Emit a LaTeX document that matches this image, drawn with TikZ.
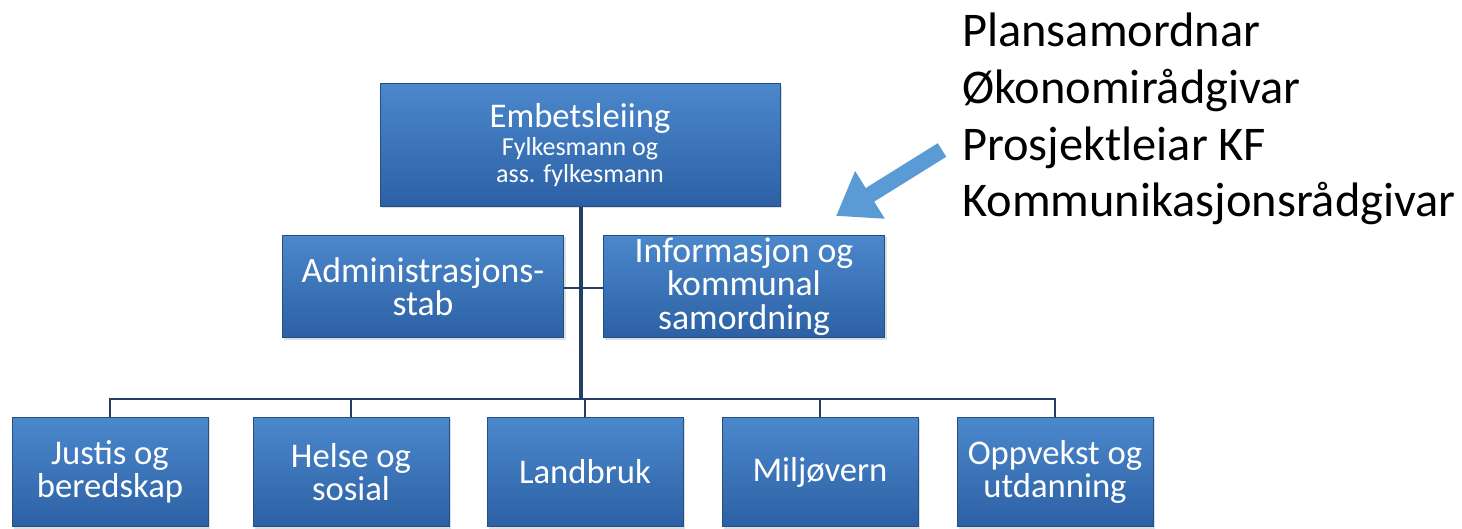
\documentclass[tikz,border=0pt]{standalone}
\usepackage{fontspec}
\setmainfont{Carlito}
\usetikzlibrary{arrows.meta,shadows}

\definecolor{boxtop}{RGB}{76,136,204}
\definecolor{boxbottom}{RGB}{44,96,164}
\definecolor{boxedge}{RGB}{38,78,130}
\definecolor{linkblue}{RGB}{36,62,100}
\definecolor{arrowblue}{RGB}{91,155,213}

\newcommand{\smalltext}{\fontsize{19.5}{20}\selectfont}

\tikzset{
    x=0.75pt, y=-0.75pt,
    unitbox/.style={draw=boxedge, line width=0.6pt, top color=boxtop, bottom color=boxbottom,
        text=white, align=center, inner sep=0pt,
        drop shadow={shadow xshift=1.5pt, shadow yshift=-1.5pt, opacity=0.25},
        font=\fontsize{26}{25}\selectfont},
    headbox/.style={unitbox, minimum width=300pt, minimum height=92pt},
    staffbox/.style={unitbox, minimum width=211pt, minimum height=77pt,
        font=\fontsize{26.8}{25}\selectfont},
    deptbox/.style={unitbox, minimum width=147pt, minimum height=82pt},
    trunk/.style={draw=linkblue, line width=2.6pt},
    branch/.style={draw=linkblue, line width=1.8pt},
    pointer/.style={draw=arrowblue, line width=12pt, -{Triangle[width=40pt,length=30pt]}},
    rolelist/.style={anchor=north west, align=left, inner sep=0pt,
        font=\fontsize{36.3}{42.5}\selectfont},
}

\begin{document}
\begin{tikzpicture}
    \useasboundingbox (0,0) rectangle (1462,528);

    % leiing og stab
    \node [headbox] (leiing) at (580,145) {Embetsleiing\\[-4pt]
        \smalltext Fylkesmann og\\[-4.5pt]\smalltext ass. fylkesmann};
    \node [staffbox] (admin) at (423,286.5) {Administrasjons-\\stab};
    \node [staffbox] (info) at (744,286.5) {Informasjon og\\kommunal\\samordning};

    % avdelingar
    \node [deptbox] (justis) at (110,472) {Justis og\\beredskap};
    \node [deptbox] (helse) at (351,472) {Helse og\\sosial};
    \node [deptbox] (landbruk) at (585,472) {Landbruk};
    \node [deptbox] (miljo) at (820,472) {Miljøvern};
    \node [deptbox] (oppvekst) at (1055,472) {Oppvekst og\\utdanning};

    \coordinate (bus) at (581,399);
    \coordinate (stab) at (581,288);

    % linjer
    \draw [branch] (admin.east |- stab) -- (info.west |- stab);
    \draw [trunk] (leiing.south -| bus) -- (bus);
    \foreach \dept in {justis, helse, landbruk, miljo, oppvekst}
        \draw [branch] (bus) -| (\dept.north);

    % tillegg til informasjon
    \node [rolelist] (roles) at (962,13) {Plansamordnar\\Økonomirådgivar\\Prosjektleiar KF\\Kommunikasjonsrådgivar};
    \coordinate (pointfrom) at (942,150);
    \coordinate (pointto) at (836,216);
    \draw [pointer] (pointfrom) -- (pointto);
\end{tikzpicture}
\end{document}
